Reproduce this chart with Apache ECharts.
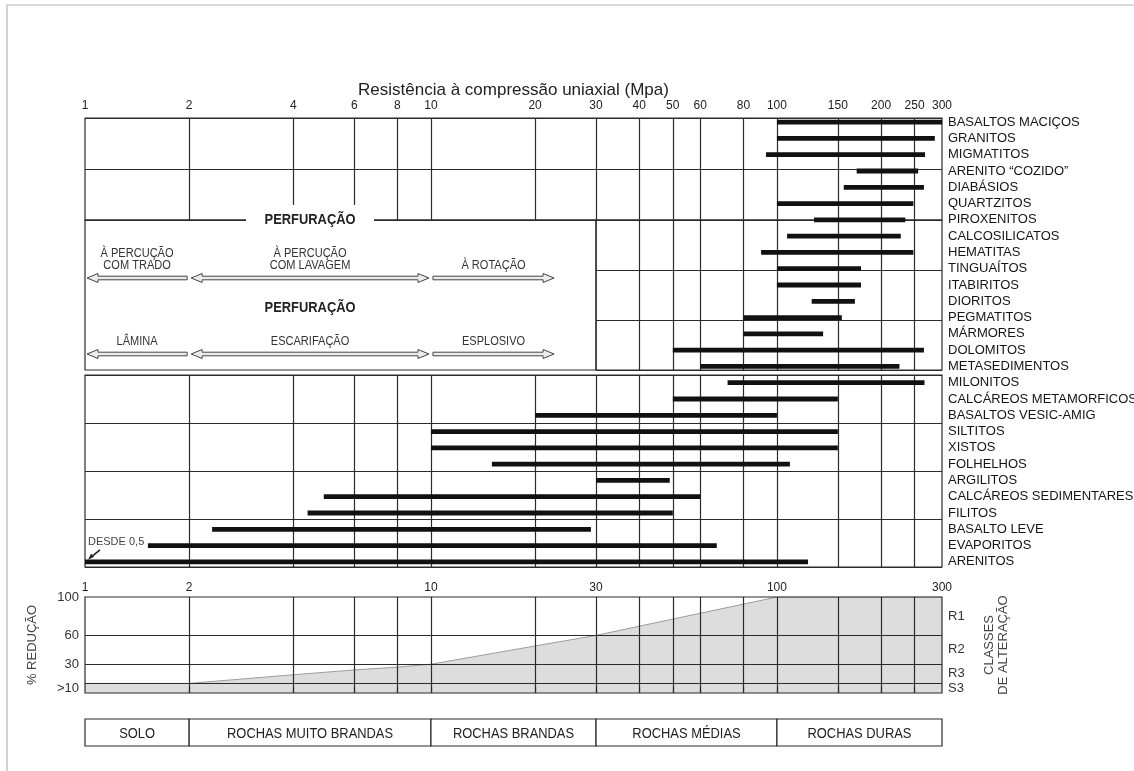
<!DOCTYPE html>
<html><head><meta charset="utf-8">
<script src="https://cdn.jsdelivr.net/npm/echarts@6/dist/echarts.min.js"></script>
<style>html,body{margin:0;padding:0;background:#fff}#c{width:1134px;height:771px}</style>
</head><body><div id="c"></div>
<script>
// ---------------- data ----------------
const rockNames = ['BASALTOS MACIÇOS','GRANITOS','MIGMATITOS','ARENITO “COZIDO”','DIABÁSIOS','QUARTZITOS','PIROXENITOS','CALCOSILICATOS','HEMATITAS','TINGUAÍTOS','ITABIRITOS','DIORITOS','PEGMATITOS','MÁRMORES','DOLOMITOS','METASEDIMENTOS','MILONITOS','CALCÁREOS METAMORFICOS','BASALTOS VESIC-AMIG','SILTITOS','XISTOS','FOLHELHOS','ARGILITOS','CALCÁREOS SEDIMENTARES','FILITOS','BASALTO LEVE','EVAPORITOS','ARENITOS'];
const strengthMin = [100,100,93,170,156,100,128,107,90,100,100,126,80,80,50,60,72,50,20,10,10,15,30,4.9,4.4,2.33,1.52,0.5];
const strengthMax = [300,286,268,256,266,248,235,228,248,175,175,168,154,136,266,226,267,150,100,150,150,109,49,60,50,29,67,123];
const scaleTicks = [1,2,4,6,8,10,20,30,40,50,60,80,100,150,200,250,300];
const reductionX = [1,2,4,6,8,10,20,30,50,100,300];
const reductionPct = [10,10,19,24,27,30,49,60,77,100,100];
const reductionTicks = [1,2,10,30,100,300];
const reductionLevels = [10,30,60,100];
const alterationClasses = ['R1','R2','R3','S3'];
const rockClasses = ['SOLO','ROCHAS MUITO BRANDAS','ROCHAS BRANDAS','ROCHAS MÉDIAS','ROCHAS DURAS'];
const rockClassBounds = [1,2,10,30,100,300];
const methodBounds = [1,2,10,23];
const drillingMethods = ['À PERCUÇÃO\nCOM TRADO','À PERCUÇÃO\nCOM LAVAGEM','À ROTAÇÃO'];
const excavationMethods = ['LÂMINA','ESCARIFAÇÃO','ESPLOSIVO'];
const methodHeadings = ['PERFURAÇÃO','PERFURAÇÃO'];
const titleText = 'Resistência à compressão uniaxial (Mpa)';

// ---------------- layout ----------------
const FONT = '"Liberation Sans", Arial, Helvetica, sans-serif';
const LINE = '#2b2b2b';
const L = 85, R = 942, W = R - L;
const AX_MAX = 300;
const xAt = v => L + W * Math.log10(v) / Math.log10(AX_MAX);
const X30 = xAt(30);
const arrowRowY = [58, 134];      // in px-units of the middle panel axis
const headingY = [0, 88];

const innerTicks = scaleTicks.slice(1, -1);
const gridBase = { show: true, borderColor: LINE, borderWidth: 1.2, backgroundColor: 'transparent', outerBoundsMode: 'none', containLabel: false };
const split = { show: true, lineStyle: { color: LINE, width: 1.2 } };
function logX(gridIndex, extra) {
  return Object.assign({
    type: 'log', logBase: 10, min: 1, max: AX_MAX, gridIndex,
    axisLine: { show: false }, axisTick: { show: false }, axisLabel: { show: false }, splitLine: { show: false }
  }, extra || {});
}
function valY(gridIndex, extra) {
  return Object.assign({
    type: 'value', gridIndex,
    axisLine: { show: false }, axisTick: { show: false }, axisLabel: { show: false }, splitLine: { show: false }
  }, extra || {});
}

// band edges of the reduction panel
const bandEdges = [0].concat(reductionLevels);
const bandMid = bandEdges.slice(1).map((e, i) => (e + bandEdges[i]) / 2).reverse(); // 80,45,20,5

const chart = echarts.init(document.getElementById('c'));

const option = {
  animation: false,
  backgroundColor: '#fff',
  textStyle: { fontFamily: FONT },
  graphic: [{ type: 'rect', silent: true, shape: { x: 7, y: 5, width: 1300, height: 900 }, style: { fill: null, stroke: '#b8b8b8', lineWidth: 1.2 } }],
  grid: [
    Object.assign({ left: L, top: 118, width: W, height: 102 }, gridBase),                 // 0 top section
    Object.assign({ left: L, top: 220, width: X30 - L, height: 150 }, gridBase),           // 1 middle left
    Object.assign({ left: X30, top: 220, width: R - X30, height: 150 }, gridBase),         // 2 middle right
    Object.assign({ left: L, top: 375, width: W, height: 192 }, gridBase),                 // 3 lower section
    Object.assign({}, gridBase, { show: false, left: L, top: 114, width: W, height: 456 }),// 4 bars overlay
    Object.assign({ left: L, top: 597, width: W, height: 96 }, gridBase),                  // 5 reduction
    Object.assign({}, gridBase, { show: false, left: L, top: 719, width: W, height: 27 })  // 6 rock classes
  ],
  xAxis: [
    logX(0, {
      position: 'top',
      name: titleText, nameLocation: 'middle', nameGap: 18,
      nameTextStyle: { fontSize: 17, color: '#222', fontFamily: FONT },
      axisLabel: { show: true, customValues: scaleTicks, fontSize: 12, color: '#222', margin: 6, formatter: v => String(Math.round(v)) },
      axisTick: { show: false, customValues: innerTicks },
      splitLine: split
    }),
    logX(1, { max: 30 }),
    logX(2, { min: 30, axisTick: { show: false, customValues: innerTicks.filter(v => v > 30) }, splitLine: split }),
    logX(3, { axisTick: { show: false, customValues: innerTicks }, splitLine: split }),
    logX(4),
    logX(5, {
      position: 'top',
      axisLabel: { show: true, customValues: reductionTicks, fontSize: 12, color: '#222', margin: 3, formatter: v => String(Math.round(v)) },
      axisTick: { show: true, customValues: innerTicks, length: 6, inside: false, lineStyle: { color: LINE, width: 1.2 } },
      splitLine: split
    }),
    logX(6)
  ],
  yAxis: [
    valY(0, { min: 0, max: 2, interval: 1, splitLine: split }),
    valY(1, { min: 0, max: 150, inverse: true }),
    valY(2, { min: 0, max: 3, interval: 1, splitLine: split }),
    valY(3, { min: 0, max: 4, interval: 1, splitLine: split }),
    {
      type: 'category', gridIndex: 4, data: rockNames, inverse: true, position: 'right',
      axisLine: { show: false }, axisTick: { show: false }, splitLine: { show: false },
      axisLabel: { show: true, interval: 0, fontSize: 13, color: '#151515', margin: 6, fontFamily: FONT }
    },
    valY(5, {
      min: 0, max: 100, position: 'left',
      name: '% REDUÇÃO', nameLocation: 'middle', nameRotate: 90, nameGap: 46,
      nameTextStyle: { fontSize: 13, color: '#444', fontFamily: FONT },
      axisLabel: { show: true, customValues: [bandMid[3]].concat(reductionLevels.slice(1)), fontSize: 13, color: '#333', margin: 6,
        formatter: v => (v < reductionLevels[0] ? '>' + reductionLevels[0] : String(v)) },
      axisTick: { show: false, customValues: reductionLevels.slice(0, -1) },
      splitLine: split
    }),
    valY(5, {
      min: 0, max: 100, position: 'right',
      name: 'CLASSES\nDE ALTERAÇÃO', nameLocation: 'middle', nameRotate: 90, nameGap: 40,
      nameTextStyle: { fontSize: 13, color: '#444', fontFamily: FONT, lineHeight: 14 },
      axisLabel: { show: true, customValues: bandMid, fontSize: 13, color: '#333', margin: 6,
        formatter: v => alterationClasses[bandMid.indexOf(v)] }
    }),
    valY(6, { min: 0, max: 1, inverse: true })
  ],
  series: [
    {
      type: 'custom', name: 'resistência', xAxisIndex: 4, yAxisIndex: 4,
      encode: { x: [0, 1], y: 2 },
      data: rockNames.map((n, i) => [strengthMin[i], strengthMax[i], i]),
      renderItem(params, api) {
        const cs = params.coordSys;
        const s = api.value(0), e = api.value(1), r = api.value(2);
        const a = api.coord([s, r]);
        const b = api.coord([e, r]);
        const x1 = Math.max(a[0], cs.x), x2 = Math.min(b[0], cs.x + cs.width);
        const children = [{ type: 'rect', shape: { x: x1, y: a[1] - 2.4, width: x2 - x1, height: 4.8 }, style: { fill: '#111' } }];
        if (s < 1) {
          children.push({ type: 'text', style: { text: 'DESDE ' + String(s).replace('.', ','), x: x1 + 3, y: a[1] - 20, verticalAlign: 'middle', align: 'left', font: '11px ' + FONT, fill: '#444' } });
          children.push({ type: 'line', shape: { x1: x1 + 15, y1: a[1] - 12, x2: x1 + 5, y2: a[1] - 4 }, style: { stroke: '#222', lineWidth: 1.6 } });
          children.push({ type: 'polygon', shape: { points: [[x1 + 3, a[1] - 2], [x1 + 9, a[1] - 5], [x1 + 6, a[1] - 8]] }, style: { fill: '#222' } });
        }
        return { type: 'group', children };
      }
    },
    {
      type: 'custom', name: 'métodos', xAxisIndex: 1, yAxisIndex: 1,
      data: [0, 1].flatMap(r => [0, 1, 2].map(i => [methodBounds[i], methodBounds[i + 1], r, i])),
      renderItem(params, api) {
        const lo = api.value(0), hi = api.value(1), r = api.value(2), i = api.value(3);
        const y = api.coord([lo, arrowRowY[r]])[1];
        const x1 = api.coord([lo, 0])[0] + 2;
        const x2 = api.coord([hi, 0])[0] - 2;
        const headL = i < 2, headR = i > 0;
        const hl = 11, hh = 4.5, sh = 1.8;
        const pts = [];
        if (headL) pts.push([x1, y], [x1 + hl, y - hh], [x1 + hl, y - sh]); else pts.push([x1, y + sh], [x1, y - sh]);
        if (headR) pts.push([x2 - hl, y - sh], [x2 - hl, y - hh], [x2, y], [x2 - hl, y + hh], [x2 - hl, y + sh]);
        else pts.push([x2, y - sh], [x2, y + sh]);
        if (headL) pts.push([x1 + hl, y + sh], [x1 + hl, y + hh]);
        const label = (r === 0 ? drillingMethods : excavationMethods)[i];
        return { type: 'group', children: [
          { type: 'polygon', shape: { points: pts }, style: { fill: '#ececec', stroke: '#444', lineWidth: 1 } },
          { type: 'text', x: (x1 + x2) / 2, y: y - 6, scaleX: 0.92,
            style: { text: label, x: 0, y: 0, align: 'center', verticalAlign: 'bottom', font: '12px ' + FONT, fill: '#333', lineHeight: 12 } }
        ] };
      }
    },
    {
      type: 'custom', name: 'perfuração', xAxisIndex: 1, yAxisIndex: 1,
      data: methodHeadings.map((h, k) => [methodBounds[1], methodBounds[2], k]),
      renderItem(params, api) {
        const k = api.value(2);
        const xa = api.coord([api.value(0), 0])[0], xb = api.coord([api.value(1), 0])[0];
        const cx = (xa + xb) / 2;
        const cy = api.coord([1, headingY[k]])[1];
        const children = [];
        if (k === 0) children.push({ type: 'rect', shape: { x: cx - 64, y: cy - 15, width: 128, height: 22 }, style: { fill: '#fff' } });
        children.push({ type: 'text', x: cx, y: cy, scaleX: 0.86,
          style: { text: methodHeadings[k], x: 0, y: 0, align: 'center', verticalAlign: 'middle', font: 'bold 15px ' + FONT, fill: '#222' } });
        return { type: 'group', children };
      }
    },
    {
      type: 'line', name: '% redução', xAxisIndex: 5, yAxisIndex: 5, z: -1,
      data: reductionX.map((x, i) => [x, reductionPct[i]]),
      symbol: 'none', showSymbol: false, silent: true,
      lineStyle: { color: '#9c9c9c', width: 1 },
      areaStyle: { color: '#dddddd', opacity: 1 }
    },
    {
      type: 'custom', name: 'classes', xAxisIndex: 6, yAxisIndex: 7,
      data: rockClasses.map((c, i) => [rockClassBounds[i], rockClassBounds[i + 1], i]),
      renderItem(params, api) {
        const a = api.coord([api.value(0), 0]);
        const b = api.coord([api.value(1), 1]);
        const i = api.value(2);
        return { type: 'group', children: [
          { type: 'rect', shape: { x: a[0], y: a[1], width: b[0] - a[0], height: b[1] - a[1] }, style: { fill: '#fff', stroke: LINE, lineWidth: 1.2 } },
          { type: 'text', x: (a[0] + b[0]) / 2, y: (a[1] + b[1]) / 2 + 1, scaleX: 0.86,
            style: { text: rockClasses[i], x: 0, y: 0, align: 'center', verticalAlign: 'middle', font: '15px ' + FONT, fill: '#222' } }
        ] };
      }
    }
  ]
};
chart.setOption(option);
</script></body></html>
